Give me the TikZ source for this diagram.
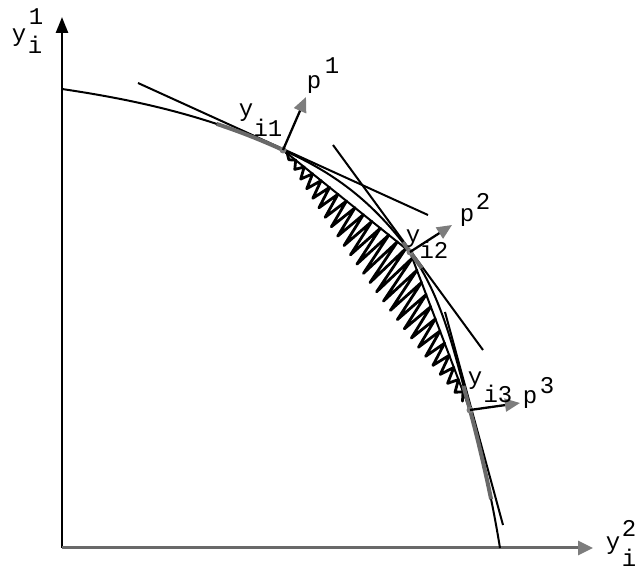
\documentclass[tikz,border=0pt]{standalone}
\usepackage{fontspec}
\setmonofont{Liberation Mono}
\usetikzlibrary{arrows.meta,calc}
\definecolor{dg}{RGB}{105,105,105}
\definecolor{lg}{RGB}{125,125,125}
\begin{document}
\begin{tikzpicture}[x=1pt,y=-1pt,
  lab/.style={inner sep=0pt, font=\ttfamily\fontsize{24}{24}\selectfont},
  frontier/.style={line width=2pt, black},
  tang/.style={line width=2pt, black},
  chord/.style={line width=2pt, black},
  grayover/.style={line width=4pt, dg},
  hatch/.style={line width=2.8pt, black, line join=round, line cap=round},
  parrow/.style={line width=2.3pt, black, -{Triangle[length=15pt,width=13pt,color=lg]}},
  dotmark/.style={fill=lg, draw=none}]
\useasboundingbox (0,0) rectangle (641,572);

% key points
\coordinate (O) at (62,548);
\coordinate (Ytop) at (62,17);
\coordinate (Xtip) at (593,548);
\coordinate (S) at (62,89);
\coordinate (A) at (283,150);
\coordinate (B) at (410,252);
\coordinate (C) at (470,410);
\coordinate (E) at (500,548);

% axes
\draw[line width=2.5pt, -{Triangle[length=16pt,width=12pt]}] (O) -- (Ytop);
\draw[line width=3pt, dg, -{Triangle[length=15pt,width=14pt,color=lg]}] (O) -- (Xtip);

% hatching: zigzag between a slightly bowed line A--C and the chords A--B--C
\draw[hatch] (A)
  foreach \k in {1,...,15} {
    -- ($(A)!{(\k-0.5)/15}!(B)$)
    -- ($(A)!{0.53*\k/15}!(C) + ({-22*(0.53*\k/15)*(1-0.53*\k/15)},{16*(0.53*\k/15)*(1-0.53*\k/15)})$) }
  foreach \k in {1,...,12} {
    -- ($(B)!{(\k-0.5)/13}!(C)$)
    -- ($(A)!{0.53+0.47*\k/13}!(C) + ({-22*(0.53+0.47*\k/13)*(0.47-0.47*\k/13)},{16*(0.53+0.47*\k/13)*(0.47-0.47*\k/13)})$) };

% frontier curve
\draw[frontier] (S) .. controls (136,100) and (209,116) .. (A)
  .. controls (325,169) and (368,194.5) .. (B)
  .. controls (443,297) and (455,356) .. (C)
  .. controls (482,455) and (492.5,501.5) .. (E);

% tangents
\coordinate (T1a) at (138,83);  \coordinate (T1b) at (428,215);
\coordinate (T2a) at (333,145); \coordinate (T2b) at (483,350);
\coordinate (T3a) at (445,312); \coordinate (T3b) at (503,525);
\draw[tang] (T1a) -- (T1b);
\draw[tang] (T2a) -- (T2b);
\draw[tang] (T3a) -- (T3b);

% chords
\draw[chord] (A) -- (B) -- (C);

% gray overlays on the frontier
\coordinate (G1) at (216.6,123.9);
\coordinate (G2a) at (402.9,242.3); \coordinate (G2b) at (421.8,268.1);
\coordinate (G3a) at (463.4,385.9); \coordinate (G3b) at (491.1,499.2);
\draw[grayover] (G1) .. controls (238.7,131.2) and (260.8,139.8) .. (A);
\draw[grayover] (G2a) -- (B) -- (G2b);
\draw[grayover] (G3a) -- (C) .. controls (477.8,439.25) and (484.95,469.1) .. (G3b);
\fill[dotmark] (A) circle (3.5);
\fill[dotmark] (B) circle (3.5);
\fill[dotmark] (C) circle (3.5);

% price vectors
\coordinate (P1) at (306,97);
\coordinate (P2) at (452,225);
\coordinate (P3) at (520,403);
\draw[parrow] (A) -- (P1);
\draw[parrow] (B) -- (P2);
\draw[parrow] (C) -- (P3);

% axis labels
\node[lab] (lyv) at (19,38) {y};
\node[lab] (lyvs) at (36,17) {1};
\node[lab] (lyvi) at (35,45) {i};
\node[lab] (lyh) at (613,546) {y};
\node[lab] (lyhs) at (629,528) {2};
\node[lab] (lyhi) at (629,558) {i};

% point labels
\node[lab] (la) at (246,113) {y};
\node[lab] (las) at (268,128) {i1};
\node[lab] (lb) at (413,239) {y};
\node[lab] (lbs) at (434,250) {i2};
\node[lab] (lc) at (475,381) {y};
\node[lab] (lcs) at (498,394) {i3};

% vector labels
\node[lab] (lp1) at (314,85) {p};
\node[lab] (lp1s) at (332,66) {1};
\node[lab] (lp2) at (467,218) {p};
\node[lab] (lp2s) at (483,201) {2};
\node[lab] (lp3) at (530,400) {p};
\node[lab] (lp3s) at (547,386) {3};
\end{tikzpicture}
\end{document}
